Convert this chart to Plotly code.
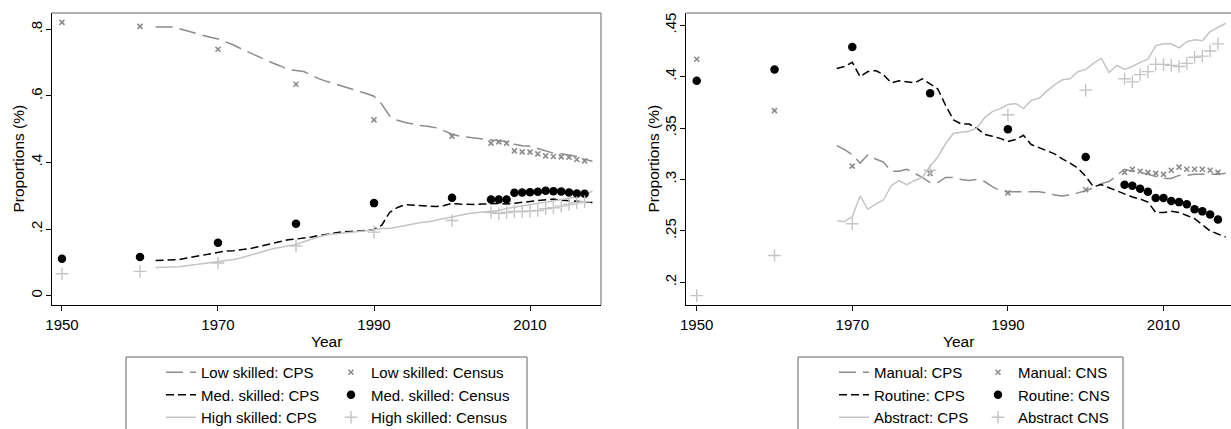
import plotly.graph_objects as go

# ---------------- data ----------------
cps_years_left = list(range(1962, 2019))
low_cps = [0.807, 0.807, 0.807, 0.802, 0.795, 0.788, 0.782, 0.776, 0.771, 0.762,
           0.753, 0.741, 0.730, 0.719, 0.710, 0.699, 0.690, 0.679, 0.676, 0.673,
           0.662, 0.651, 0.643, 0.636, 0.630, 0.623, 0.615, 0.607, 0.599, 0.575,
           0.540, 0.527, 0.520, 0.515, 0.511, 0.508, 0.504, 0.495, 0.485, 0.479,
           0.476, 0.473, 0.471, 0.469, 0.466, 0.462, 0.455, 0.450, 0.449, 0.442,
           0.436, 0.428, 0.426, 0.423, 0.418, 0.410, 0.404]
med_cps = [0.106, 0.106, 0.106, 0.108, 0.113, 0.117, 0.121, 0.126, 0.130, 0.134,
           0.135, 0.137, 0.141, 0.146, 0.151, 0.156, 0.162, 0.168, 0.170, 0.172,
           0.176, 0.181, 0.185, 0.189, 0.192, 0.193, 0.194, 0.196, 0.199, 0.212,
           0.250, 0.265, 0.273, 0.272, 0.270, 0.269, 0.268, 0.271, 0.277, 0.275,
           0.274, 0.274, 0.275, 0.276, 0.277, 0.275, 0.277, 0.281, 0.283, 0.286,
           0.289, 0.290, 0.287, 0.285, 0.284, 0.282, 0.280]
high_cps = [0.085, 0.085, 0.085, 0.087, 0.090, 0.093, 0.095, 0.098, 0.101, 0.105,
            0.109, 0.114, 0.120, 0.127, 0.134, 0.141, 0.146, 0.149, 0.154, 0.162,
            0.170, 0.177, 0.183, 0.186, 0.189, 0.191, 0.193, 0.195, 0.199, 0.202,
            0.202, 0.207, 0.210, 0.216, 0.220, 0.222, 0.227, 0.232, 0.237, 0.242,
            0.246, 0.249, 0.252, 0.254, 0.256, 0.262, 0.266, 0.269, 0.272, 0.276,
            0.281, 0.285, 0.290, 0.294, 0.297, 0.300, 0.315]

census_years = [1950, 1960, 1970, 1980, 1990, 2000] + list(range(2005, 2018))
low_census = [0.821, 0.809, 0.740, 0.635, 0.528, 0.479, 0.458, 0.462, 0.458, 0.435,
              0.432, 0.431, 0.426, 0.420, 0.418, 0.417, 0.416, 0.409, 0.405]
med_census = [0.111, 0.116, 0.159, 0.216, 0.278, 0.294, 0.289, 0.289, 0.289, 0.309,
              0.310, 0.311, 0.312, 0.315, 0.314, 0.313, 0.310, 0.307, 0.306]
high_census = [0.066, 0.073, 0.098, 0.149, 0.191, 0.226, 0.250, 0.247, 0.250, 0.253,
               0.253, 0.254, 0.256, 0.261, 0.264, 0.269, 0.274, 0.279, 0.282]

cps_years_right = list(range(1968, 2019))
manual_cps = [0.333, 0.329, 0.324, 0.316, 0.324, 0.320, 0.317, 0.308, 0.308, 0.310,
              0.306, 0.302, 0.297, 0.297, 0.302, 0.302, 0.300, 0.299, 0.300, 0.298,
              0.293, 0.289, 0.288, 0.288, 0.288, 0.288, 0.288, 0.287, 0.285, 0.284,
              0.285, 0.287, 0.289, 0.292, 0.296, 0.298, 0.304, 0.310, 0.308, 0.307,
              0.305, 0.303, 0.301, 0.301, 0.304, 0.304, 0.305, 0.305, 0.305, 0.305,
              0.306]
routine_cps = [0.408, 0.410, 0.414, 0.400, 0.405, 0.406, 0.402, 0.394, 0.396, 0.395,
               0.394, 0.398, 0.393, 0.388, 0.372, 0.358, 0.354, 0.354, 0.350, 0.344,
               0.342, 0.340, 0.337, 0.339, 0.343, 0.334, 0.331, 0.328, 0.325, 0.320,
               0.316, 0.311, 0.303, 0.293, 0.295, 0.292, 0.289, 0.286, 0.283, 0.281,
               0.278, 0.268, 0.268, 0.269, 0.268, 0.265, 0.262, 0.256, 0.250, 0.247,
               0.244]
abstract_cps = [0.260, 0.259, 0.264, 0.284, 0.271, 0.276, 0.280, 0.294, 0.299, 0.295,
                0.299, 0.302, 0.313, 0.322, 0.335, 0.345, 0.346, 0.347, 0.350, 0.360,
                0.366, 0.369, 0.373, 0.374, 0.369, 0.377, 0.379, 0.386, 0.392, 0.397,
                0.398, 0.405, 0.407, 0.413, 0.418, 0.404, 0.411, 0.407, 0.410, 0.414,
                0.417, 0.430, 0.432, 0.432, 0.428, 0.434, 0.436, 0.435, 0.444, 0.448,
                0.452]

manual_cns = [0.417, 0.367, 0.313, 0.306, 0.287, 0.290, 0.307, 0.310, 0.308, 0.307,
              0.306, 0.305, 0.309, 0.312, 0.310, 0.310, 0.310, 0.309, 0.307]
routine_cns = [0.396, 0.407, 0.429, 0.384, 0.349, 0.322, 0.295, 0.294, 0.291, 0.288,
               0.282, 0.282, 0.279, 0.278, 0.276, 0.271, 0.269, 0.266, 0.261]
abstract_cns = [0.187, 0.226, 0.257, 0.309, 0.363, 0.387, 0.398, 0.395, 0.402, 0.405,
                0.412, 0.412, 0.411, 0.410, 0.413, 0.419, 0.420, 0.425, 0.432]

x_tick_vals = [1950, 1970, 1990, 2010]
left_y_ticks = [0, 0.2, 0.4, 0.6, 0.8]
left_y_labels = ["0", ".2", ".4", ".6", ".8"]
right_y_ticks = [0.2, 0.25, 0.3, 0.35, 0.4, 0.45]
right_y_labels = [".2", ".25", ".3", ".35", ".4", ".45"]

# ---------------- styling ----------------
W, H = 1231, 429
ML, MR, MT, MB = 52, 0, 13, 124
PW, PH = W - ML - MR, H - MT - MB
FONT = "Liberation Sans, Arial, Helvetica, sans-serif"
C_LOW = "#8c8c8c"
C_MED = "#000000"
C_HIGH = "#c4c4c4"


def px_x(px):
    return (px - ML) / PW


def px_y(py):
    return (H - MB - py) / PH


fig = go.Figure()

long_dash = "17px,7px"
short_dash = "8px,4px"


def add_panel(xa, ya, years, lines, cyears, points, legA, legB):
    for name, vals, color, dash, width in lines:
        fig.add_trace(go.Scatter(x=years, y=vals, mode="lines", name=name,
                                 line=dict(color=color, dash=dash, width=width),
                                 xaxis=xa, yaxis=ya, legend=legA))
    for name, vals, marker in points:
        fig.add_trace(go.Scatter(x=cyears, y=vals, mode="markers", name=name,
                                 marker=marker, xaxis=xa, yaxis=ya, legend=legB))


m_x = dict(symbol="x-thin", size=5, color=C_LOW, line=dict(color=C_LOW, width=1.6))
m_dot = dict(symbol="circle", size=8.5, color=C_MED, line=dict(width=0))
m_plus = dict(symbol="cross-thin", size=9, color=C_HIGH, line=dict(color=C_HIGH, width=1.4))

add_panel("x", "y", cps_years_left,
          [("Low skilled: CPS", low_cps, C_LOW, long_dash, 1.5),
           ("Med. skilled: CPS", med_cps, C_MED, short_dash, 1.5),
           ("High skilled: CPS", high_cps, C_HIGH, "solid", 1.5)],
          census_years,
          [("Low skilled: Census", low_census, m_x),
           ("Med. skilled: Census", med_census, m_dot),
           ("High skilled: Census", high_census, m_plus)],
          "legend", "legend2")

add_panel("x2", "y2", cps_years_right,
          [("Manual: CPS", manual_cps, C_LOW, long_dash, 1.5),
           ("Routine: CPS", routine_cps, C_MED, short_dash, 1.5),
           ("Abstract: CPS", abstract_cps, C_HIGH, "solid", 1.5)],
          census_years,
          [("Manual: CNS", manual_cns, m_x),
           ("Routine: CNS", routine_cns, m_dot),
           ("Abstract CNS", abstract_cns, m_plus)],
          "legend3", "legend4")

axis_common = dict(showgrid=False, zeroline=False, showline=True, linecolor="#000",
                   linewidth=1.3, ticks="outside", ticklen=5, tickcolor="#000",
                   tickwidth=1, tickfont=dict(family=FONT, size=15, color="#000"),
                   automargin=False)

fig.update_layout(
    width=W, height=H,
    margin=dict(l=ML, r=MR, t=MT, b=MB, autoexpand=False),
    paper_bgcolor="white", plot_bgcolor="white",
    font=dict(family=FONT, color="#000"),
    xaxis=dict(domain=[0, px_x(601)], range=[1948.72, 2019.10], tickvals=x_tick_vals,
               anchor="y", ticklabelstandoff=1, **axis_common),
    yaxis=dict(domain=[0, 1], range=[-0.028, 0.849], tickvals=left_y_ticks,
               ticktext=left_y_labels, tickangle=-90, anchor="x",
               ticklabelstandoff=-2, **axis_common),
    xaxis2=dict(domain=[px_x(686.3), 1], range=[1948.66, 2018.68], tickvals=x_tick_vals,
                anchor="y2", ticklabelstandoff=1, **axis_common),
    yaxis2=dict(domain=[0, 1], range=[0.1779, 0.462], tickvals=right_y_ticks,
                ticktext=right_y_labels, tickangle=-90, anchor="x2",
                ticklabelstandoff=-2, **axis_common),
)

leg_common = dict(xref="container", yref="container", xanchor="left", yanchor="top",
                  orientation="v", bgcolor="rgba(0,0,0,0)", borderwidth=0,
                  font=dict(family=FONT, size=15, color="#000"), tracegroupgap=0,
                  itemsizing="trace")
LEG_TOP = 356
fig.update_layout(
    legend=dict(x=161 / W, y=1 - LEG_TOP / H, **leg_common),
    legend2=dict(x=331 / W, y=1 - LEG_TOP / H, **leg_common),
    legend3=dict(x=834 / W, y=1 - LEG_TOP / H, **leg_common),
    legend4=dict(x=978 / W, y=1 - LEG_TOP / H, **leg_common),
)

shapes = []
# plot-region frames (top / right)
for xr, yr, right in (("x domain", "y domain", True), ("x2 domain", "y2 domain", False)):
    shapes.append(dict(type="line", xref=xr, yref=yr, x0=0, x1=1, y0=1, y1=1,
                       line=dict(color="#666", width=1)))
    if right:
        shapes.append(dict(type="line", xref=xr, yref=yr, x0=1, x1=1, y0=0, y1=1,
                           line=dict(color="#666", width=1)))
# legend boxes
for x0, x1 in ((126, 527), (798, 1123)):
    shapes.append(dict(type="rect", xref="paper", yref="paper",
                       x0=px_x(x0), x1=px_x(x1), y0=px_y(357), y1=px_y(440),
                       line=dict(color="#666", width=1), fillcolor="rgba(0,0,0,0)"))
fig.update_layout(shapes=shapes)

title_font = dict(family=FONT, size=15.5, color="#000")
annotations = [
    dict(text="Year", xref="x domain", yref="paper", x=0.5, y=px_y(341),
         showarrow=False, font=title_font, xanchor="center", yanchor="middle"),
    dict(text="Year", xref="x2 domain", yref="paper", x=0.5, y=px_y(341),
         showarrow=False, font=title_font, xanchor="center", yanchor="middle"),
    dict(text="Proportions (%)", xref="paper", yref="y domain", x=px_x(17.5), y=0.5,
         textangle=-90, showarrow=False, font=title_font, xanchor="center", yanchor="middle"),
    dict(text="Proportions (%)", xref="paper", yref="y2 domain", x=px_x(652.5), y=0.5,
         textangle=-90, showarrow=False, font=title_font, xanchor="center", yanchor="middle"),
]
fig.update_layout(annotations=annotations)

fig.write_html("out.html", config={"displayModeBar": False},
               post_script="document.body.style.margin='0px';document.body.style.overflow='hidden';")
